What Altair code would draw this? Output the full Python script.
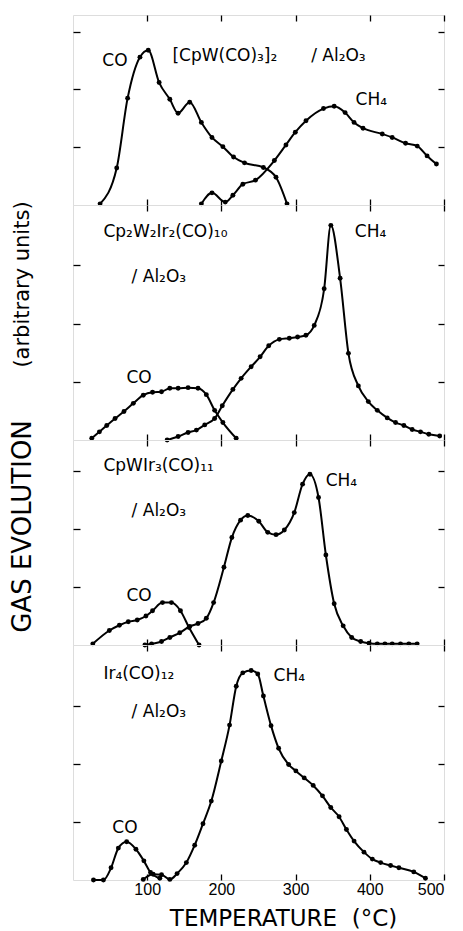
import altair as alt
import pandas as pd

# ---------------- data (temperature in °C, gas evolution in arbitrary units) -------------
# Panel 1: [CpW(CO)3]2 / Al2O3
p1_co_T = [36.5, 58.9, 73.6, 90.2, 101.4, 116.1, 130.5, 141.6, 157.3, 173.0, 187.3, 202.0, 216.4, 231.1, 256.6, 273.6, 288.4]
p1_co_v = [0.02, 0.64, 1.85, 2.56, 2.68, 2.12, 1.83, 1.59, 1.78, 1.43, 1.17, 1.01, 0.83, 0.73, 0.65, 0.48, 0.02]
p1_ch4_T = [173.0, 187.3, 205.2, 215.5, 228.9, 245.9, 271.4, 287.0, 299.6, 314.0, 337.6, 352.0, 366.7, 378.8, 390.9, 416.8, 430.2, 448.2, 463.9, 477.2, 489.8]
p1_ch4_v = [0.02, 0.21, 0.05, 0.17, 0.36, 0.43, 0.77, 1.04, 1.26, 1.46, 1.67, 1.71, 1.60, 1.43, 1.33, 1.23, 1.17, 1.07, 1.02, 0.85, 0.71]

# Panel 2: Cp2W2Ir2(CO)10 / Al2O3
p2_co_T = [25.3, 35.6, 45.5, 56.7, 68.7, 81.3, 94.7, 107.2, 119.3, 130.5, 141.7, 155.1, 168.5, 179.7, 190.9, 202.0, 219.9]
p2_co_v = [0.03, 0.14, 0.25, 0.37, 0.49, 0.63, 0.77, 0.82, 0.83, 0.89, 0.89, 0.90, 0.89, 0.78, 0.51, 0.30, 0.03]
p2_ch4_T = [126.9, 141.7, 155.1, 166.3, 177.5, 190.9, 201.2, 215.5, 226.6, 240.1, 252.2, 263.8, 278.1, 291.5, 302.7, 313.9, 325.1, 338.5, 347.5, 360.0, 371.2, 384.6, 398.0, 410.1, 423.5, 434.7, 445.9, 457.1, 468.3, 479.5, 494.2]
p2_ch4_v = [0.0, 0.06, 0.13, 0.17, 0.26, 0.37, 0.59, 0.87, 1.06, 1.26, 1.43, 1.62, 1.73, 1.75, 1.77, 1.80, 1.97, 2.60, 3.69, 2.78, 1.49, 0.93, 0.66, 0.51, 0.38, 0.30, 0.25, 0.18, 0.14, 0.10, 0.07]

# Panel 3: CpWIr3(CO)11 / Al2O3
p3_co_T = [26.7, 49.0, 62.5, 74.5, 86.6, 98.3, 107.2, 120.6, 132.7, 144.8, 156.4, 169.9]
p3_co_v = [0.02, 0.25, 0.34, 0.40, 0.43, 0.50, 0.59, 0.73, 0.73, 0.59, 0.30, 0.0]
p3_ch4_T = [96.9, 105.9, 119.3, 130.5, 143.9, 157.3, 168.5, 179.7, 189.5, 203.4, 214.1, 225.8, 235.6, 250.4, 262.5, 273.6, 284.8, 298.2, 309.4, 319.3, 330.9, 340.8, 352.0, 364.1, 375.6, 387.7, 398.9, 410.1, 420.4, 430.2, 441.4, 452.6, 463.8]
p3_ch4_v = [0.0, 0.02, 0.06, 0.13, 0.21, 0.32, 0.37, 0.46, 0.73, 1.34, 1.85, 2.15, 2.23, 2.13, 1.94, 1.90, 1.98, 2.28, 2.77, 2.94, 2.54, 1.55, 0.71, 0.33, 0.13, 0.06, 0.03, 0.02, 0.02, 0.02, 0.02, 0.02, 0.02]

# Panel 4: Ir4(CO)12 / Al2O3
p4_co_T = [27.6, 41.0, 51.3, 61.1, 72.3, 84.8, 95.5, 104.5, 117.0]
p4_co_v = [0.0, 0.0, 0.21, 0.55, 0.66, 0.53, 0.33, 0.13, 0.03]
p4_ch4_T = [94.7, 108.0, 119.3, 130.5, 140.3, 152.8, 164.0, 175.2, 186.4, 199.8, 211.0, 220.0, 228.9, 240.1, 249.0, 256.6, 266.9, 277.1, 290.6, 300.4, 311.6, 323.7, 336.2, 347.4, 358.6, 368.5, 378.8, 392.2, 403.4, 414.6, 428.0, 439.2, 459.3, 475.0]
p4_ch4_v = [0.01, 0.10, 0.09, 0.01, 0.11, 0.30, 0.60, 0.97, 1.36, 2.05, 2.67, 3.34, 3.57, 3.61, 3.55, 3.17, 2.66, 2.27, 1.99, 1.88, 1.76, 1.63, 1.45, 1.25, 1.09, 0.87, 0.67, 0.48, 0.36, 0.30, 0.25, 0.21, 0.14, 0.03]

# Text labels inside each panel
p1_labels = ["CO", "[CpW(CO)\u2083]\u2082", "/  Al\u2082O\u2083", "CH\u2084"]
p2_labels = ["Cp\u2082W\u2082Ir\u2082(CO)\u2081\u2080", "/  Al\u2082O\u2083", "CO", "CH\u2084"]
p3_labels = ["CpWIr\u2083(CO)\u2081\u2081", "/  Al\u2082O\u2083", "CO", "CH\u2084"]
p4_labels = ["Ir\u2084(CO)\u2081\u2082", "/  Al\u2082O\u2083", "CO", "CH\u2084"]
# label anchor positions (data units) and alignment
p1_label_T = [56.6, 134.0, 321.0, 402.0]
p1_label_v = [2.50, 2.58, 2.58, 1.81]
p1_label_align = ["center", "left", "left", "center"]
p2_label_T = [41.0, 79.0, 89.0, 401.0]
p2_label_v = [3.57, 2.80, 1.06, 3.57]
p2_label_align = ["left", "left", "center", "center"]
p3_label_T = [41.0, 79.0, 89.0, 361.8]
p3_label_v = [3.09, 2.31, 0.85, 2.83]
p3_label_align = ["left", "left", "center", "center"]
p4_label_T = [41.0, 79.0, 70.0, 291.5]
p4_label_v = [3.55, 2.89, 0.90, 3.52]
p4_label_align = ["left", "left", "center", "center"]

x_ticks = [100, 200, 300, 400, 500]
y_ticks = [1, 2, 3]

FONT = "DejaVu Sans"
WIDTH = 371


def panel(co_T, co_v, ch4_T, ch4_v, labels, lab_T, lab_v, lab_align,
          height, ymax, last=False, ytitle=None, ytitle_y=0, ytitle_size=20):
    df = pd.DataFrame({
        "T": co_T + ch4_T,
        "v": co_v + ch4_v,
        "gas": ["CO"] * len(co_T) + ["CH4"] * len(ch4_T),
    })
    ann = pd.DataFrame({"T": lab_T, "v": lab_v, "label": labels, "align": lab_align})
    xs = alt.Scale(domain=[0, 500], nice=False, zero=False)
    ys = alt.Scale(domain=[0, ymax], nice=False, zero=False)

    xb_kwargs = dict(orient="bottom", values=x_ticks, tickSize=6, offset=-6, domain=False,
                     grid=False, tickColor="black", tickWidth=1.3, labels=last)
    if last:
        xb_kwargs.update(labelPadding=1, labelFont="Liberation Sans", labelFontSize=16,
                         labelColor="black", title="TEMPERATURE\u00a0 (°C)", titleFont=FONT,
                         titleFontSize=23, titleFontWeight="normal", titleColor="black",
                         titleX=210, titleY=44, titleAlign="center", titleBaseline="middle")
    else:
        xb_kwargs.update(title=None)
    yl_kwargs = dict(orient="left", values=y_ticks, tickSize=7, offset=-7, domain=False,
                     grid=False, tickColor="black", tickWidth=1.3, labels=False)
    if ytitle:
        yl_kwargs.update(title=ytitle, titleFont=FONT, titleFontSize=ytitle_size,
                         titleFontWeight="normal", titleColor="black", titleAngle=270,
                         titleX=-58, titleY=ytitle_y, titleAlign="center",
                         titleBaseline="middle")
    else:
        yl_kwargs.update(title=None)

    line = alt.Chart(df).mark_line(color="black", strokeWidth=2, interpolate="monotone").encode(
        x=alt.X("T:Q", scale=xs, axis=alt.Axis(**xb_kwargs)),
        y=alt.Y("v:Q", scale=ys, axis=alt.Axis(**yl_kwargs)),
        detail="gas:N",
    )
    pts = alt.Chart(df).mark_circle(color="black", size=24, opacity=1).encode(
        x=alt.X("T:Q", scale=xs, axis=alt.Axis(orient="top", values=x_ticks, tickSize=6,
                                              offset=-6, domain=False, grid=False,
                                              labels=False, title=None, tickColor="black",
                                              tickWidth=1.3)),
        y=alt.Y("v:Q", scale=ys, axis=alt.Axis(orient="right", values=y_ticks, tickSize=6,
                                              offset=-6, domain=False, grid=False,
                                              labels=False, title=None, tickColor="black",
                                              tickWidth=1.3)),
    )
    layers = [line, pts]
    for al in ["left", "center"]:
        sub = ann[ann["align"] == al]
        if len(sub):
            layers.append(
                alt.Chart(sub).mark_text(align=al, baseline="middle", font=FONT,
                                         fontSize=17, color="black").encode(
                    x=alt.X("T:Q", scale=xs, axis=None),
                    y=alt.Y("v:Q", scale=ys, axis=None),
                    text="label:N",
                )
            )
    return alt.layer(*layers).resolve_axis(x="independent", y="independent").properties(
        width=WIDTH, height=height)


c1 = panel(p1_co_T, p1_co_v, p1_ch4_T, p1_ch4_v, p1_labels, p1_label_T, p1_label_v,
           p1_label_align, 190, 3.29)
c2 = panel(p2_co_T, p2_co_v, p2_ch4_T, p2_ch4_v, p2_labels, p2_label_T, p2_label_v,
           p2_label_align, 235, 4.04, ytitle="(arbitrary units)", ytitle_y=79, ytitle_size=21)
c3 = panel(p3_co_T, p3_co_v, p3_ch4_T, p3_ch4_v, p3_labels, p3_label_T, p3_label_v,
           p3_label_align, 205, 3.53, ytitle="GAS EVOLUTION", ytitle_y=86, ytitle_size=26)
c4 = panel(p4_co_T, p4_co_v, p4_ch4_T, p4_ch4_v, p4_labels, p4_label_T, p4_label_v,
           p4_label_align, 235, 4.05, last=True)

chart = alt.vconcat(c1, c2, c3, c4, spacing=0, bounds="flush").properties(
    padding={"left": 0, "top": 5, "right": 5, "bottom": 0}
).configure_view(stroke="black", strokeWidth=1.5).configure(background="white")

chart.save("out.html", embed_options={"renderer": "svg", "actions": False})
